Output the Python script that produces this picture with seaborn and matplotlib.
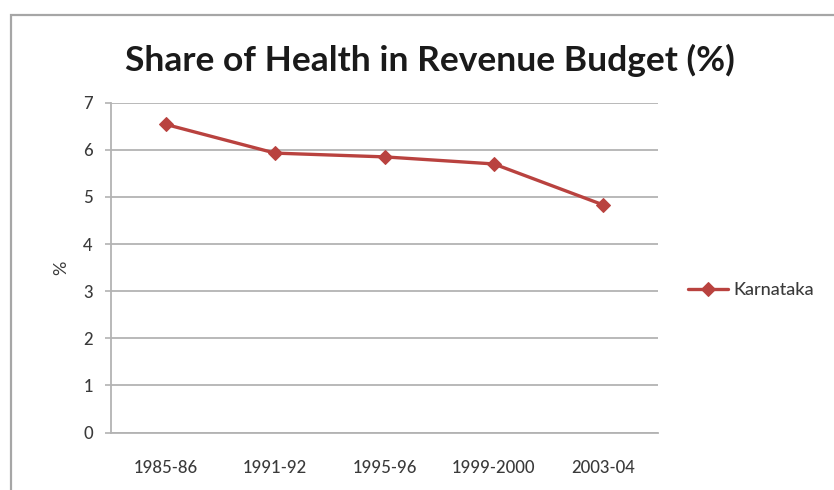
import matplotlib
matplotlib.use("Agg")
import matplotlib.pyplot as plt
import seaborn as sns
import pandas as pd
from matplotlib.patches import Rectangle

years = ["1985-86", "1991-92", "1995-96", "1999-2000", "2003-04"]
karnataka = [6.54, 5.93, 5.85, 5.70, 4.83]
series_name = "Karnataka"

df = pd.DataFrame({"year": years, "share": karnataka, "state": series_name})

sns.set_theme(style="white")
plt.rcParams["font.family"] = ["Lato", "DejaVu Sans"]

fig = plt.figure(figsize=(8.34, 4.90), dpi=100)
fig.patch.set_facecolor("white")

# outer chart frame
fig.patches.append(Rectangle((11 / 834, -0.05), 1.0, 1 - 15 / 490 + 0.05,
                             transform=fig.transFigure, fill=False,
                             edgecolor="#a6a6a6", linewidth=1.6, zorder=0))

ax = fig.add_axes([111 / 834, 57.5 / 490, 547 / 834, 329.8 / 490])

red = "#B9423F"
sns.lineplot(data=df, x="year", y="share", hue="state", palette=[red],
             marker="D", markersize=7, markeredgecolor=red,
             linewidth=2.4, sort=False, ax=ax)

ax.set_xlim(-0.5, len(years) - 0.5)
ax.set_ylim(0, 7)
ax.set_yticks(range(0, 8))
ax.yaxis.grid(True, color="#b3b3b3", linewidth=1.3)
ax.set_axisbelow(True)
for side in ["top", "right"]:
    ax.spines[side].set_visible(False)
for side in ["left", "bottom"]:
    ax.spines[side].set_color("#b3b3b3")
    ax.spines[side].set_linewidth(1.3)

ax.tick_params(axis="y", left=True, length=4, width=1.2, color="#b3b3b3",
               labelsize=12, labelcolor="#3a3a3a", pad=9)
ax.tick_params(axis="x", bottom=False, labelsize=12, labelcolor="#3a3a3a", pad=14)
for lab in ax.get_xticklabels() + ax.get_yticklabels():
    lab.set_fontweight("medium")
ax.set_xlabel("")
ax.set_ylabel("%", fontsize=13, color="#3a3a3a", labelpad=10)

fig.text(430 / 834, 1 - 60 / 490, "Share of Health in Revenue Budget (%)",
         ha="center", va="center", fontsize=25.5, fontweight="bold", color="#1a1a1a")

leg = ax.legend(loc="center left", bbox_to_anchor=(688 / 834, 1 - 290 / 490),
                bbox_transform=fig.transFigure, frameon=False, fontsize=13,
                handlelength=2.2, handletextpad=0.3, borderaxespad=0,
                borderpad=0)
for t in leg.get_texts():
    t.set_color("#3a3a3a")
    t.set_fontweight("medium")

fig.savefig("out.png", dpi=100, facecolor="white")
